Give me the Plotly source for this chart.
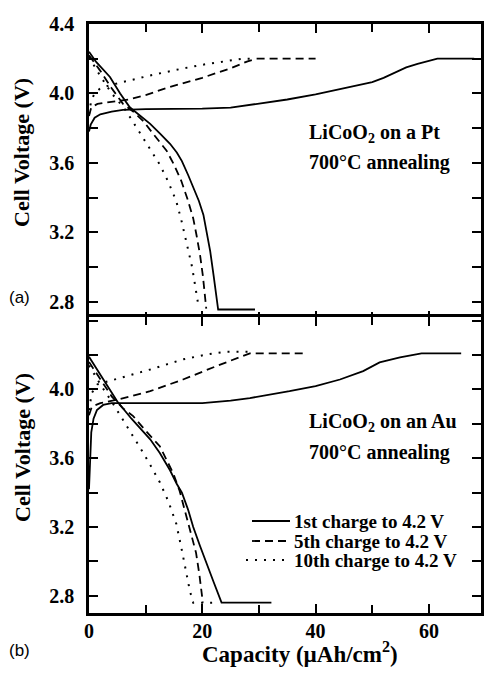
import plotly.graph_objects as go
from plotly.subplots import make_subplots

# ---------------- data ----------------
# Panel (a): LiCoO2 on Pt
a_ch1_x = [0, 0.3, 1, 2, 4, 6, 10, 15, 20, 25, 30, 35, 40, 45, 50, 52, 54, 56, 58, 60, 61.5, 68]
a_ch1_y = [3.78, 3.82, 3.86, 3.88, 3.895, 3.905, 3.91, 3.91, 3.912, 3.918, 3.94, 3.965, 3.995, 4.03, 4.065, 4.09, 4.12, 4.15, 4.17, 4.185, 4.2, 4.2]
a_ch5_x = [0, 0.4, 1.5, 4, 7, 10, 14, 20, 25, 28, 29.5, 40]
a_ch5_y = [3.87, 3.92, 3.94, 3.95, 3.965, 3.99, 4.035, 4.09, 4.145, 4.185, 4.2, 4.2]
a_ch10_x = [0, 0.4, 1, 2, 4, 7, 11, 16, 20, 24, 27, 28.5]
a_ch10_y = [3.88, 3.96, 4.0, 4.03, 4.05, 4.075, 4.105, 4.14, 4.165, 4.185, 4.2, 4.2]
a_dis1_x = [0, 1.3, 3.7, 5.5, 7.2, 9, 10.8, 12.5, 14.3, 15.5, 16.4, 17.5, 18.4, 19.4, 20.2, 20.8, 21.4, 22, 22.8, 29.3]
a_dis1_y = [4.24, 4.18, 4.095, 4.0, 3.92, 3.87, 3.825, 3.77, 3.71, 3.66, 3.61, 3.53, 3.455, 3.38, 3.30, 3.2, 3.09, 2.95, 2.755, 2.755]
a_dis5_x = [0, 2, 4, 6, 8, 9.6, 11.5, 13.7, 15, 16.3, 17.4, 18.4, 19, 19.6, 20.1, 20.7]
a_dis5_y = [4.22, 4.13, 4.03, 3.94, 3.89, 3.84, 3.76, 3.67, 3.59, 3.495, 3.39, 3.28, 3.18, 3.07, 2.95, 2.76]
a_dis10_x = [0, 2, 4, 6.1, 7.5, 9, 10.8, 12.5, 14, 15.4, 16.3, 17.2, 18.2, 19, 19.4]
a_dis10_y = [4.21, 4.1, 4.0, 3.92, 3.85, 3.77, 3.68, 3.59, 3.49, 3.38, 3.27, 3.15, 3.0, 2.84, 2.76]

# Panel (b): LiCoO2 on Au
b_ch1_x = [0, 0.15, 0.4, 0.8, 1.4, 2.5, 4, 10, 20, 25, 28.4, 35.4, 40, 44.3, 48.4, 51.3, 54.9, 58.7, 65.7]
b_ch1_y = [3.42, 3.6, 3.75, 3.83, 3.88, 3.91, 3.92, 3.92, 3.92, 3.935, 3.95, 3.99, 4.02, 4.058, 4.107, 4.157, 4.186, 4.21, 4.21]
b_ch5_x = [0, 0.5, 2, 4.9, 10.8, 16.6, 22.5, 26, 28.4, 38.4]
b_ch5_y = [3.85, 3.9, 3.92, 3.94, 3.99, 4.058, 4.136, 4.18, 4.21, 4.21]
b_ch10_x = [0, 0.5, 1.5, 3.7, 10.8, 16.6, 21, 24.3, 28]
b_ch10_y = [3.88, 3.98, 4.03, 4.05, 4.116, 4.175, 4.205, 4.22, 4.22]
b_dis1_x = [0, 2.5, 5, 7.5, 10.8, 12.5, 14.3, 15.5, 16.4, 17.5, 18.4, 19.6, 20.8, 22, 23.4, 32.2]
b_dis1_y = [4.19, 4.06, 3.93, 3.83, 3.71, 3.63, 3.53, 3.45, 3.40, 3.30, 3.20, 3.09, 2.99, 2.88, 2.76, 2.76]
b_dis5_x = [0, 2, 4, 6, 7.8, 10, 12.5, 14, 14.9, 16, 16.9, 17.9, 18.9, 19.5, 19.9, 20.1]
b_dis5_y = [4.16, 4.06, 3.96, 3.89, 3.845, 3.76, 3.67, 3.57, 3.51, 3.41, 3.30, 3.18, 3.05, 2.92, 2.82, 2.76]
b_dis10_x = [0, 2, 4, 5.5, 6.7, 8, 9.6, 11, 12.5, 14, 15.4, 16.3, 17.2, 17.8, 18.4, 21.9]
b_dis10_y = [4.14, 4.03, 3.93, 3.85, 3.79, 3.72, 3.63, 3.55, 3.46, 3.35, 3.22, 3.08, 2.93, 2.83, 2.76, 2.76]

series_names = ["1st charge to 4.2 V", "5th charge to 4.2 V", "10th charge to 4.2 V"]
y_ticks_a = [2.8, 3.2, 3.6, 4.0, 4.4]
y_ticks_b = [2.8, 3.2, 3.6, 4.0]
y_minor = [2.8, 3.0, 3.2, 3.4, 3.6, 3.8, 4.0, 4.2, 4.4]
x_ticks = [0, 20, 40, 60]
x_minor = [10, 30, 50]

# ---------------- styling ----------------
SERIF = "Liberation Serif"
SANS = "Liberation Sans"
styles = [dict(color="black", width=1.8, dash="solid"),
          dict(color="black", width=1.8, dash="8px,5px"),
          dict(color="black", width=2.0, dash="2px,7px")]

fig = make_subplots(rows=2, cols=1, shared_xaxes=True, vertical_spacing=0)

panel_a = [(a_ch1_x, a_ch1_y, a_dis1_x, a_dis1_y),
           (a_ch5_x, a_ch5_y, a_dis5_x, a_dis5_y),
           (a_ch10_x, a_ch10_y, a_dis10_x, a_dis10_y)]
panel_b = [(b_ch1_x, b_ch1_y, b_dis1_x, b_dis1_y),
           (b_ch5_x, b_ch5_y, b_dis5_x, b_dis5_y),
           (b_ch10_x, b_ch10_y, b_dis10_x, b_dis10_y)]

for row, panel in ((1, panel_a), (2, panel_b)):
    for i, (cx, cy, dx, dy) in enumerate(panel):
        for xx, yy in ((cx, cy), (dx, dy)):
            fig.add_trace(go.Scatter(x=xx, y=yy, mode="lines", line=styles[i],
                                     name=series_names[i], showlegend=False,
                                     hoverinfo="skip"), row=row, col=1)

LW = 2.5
PW = 392.0   # plot width in px
PH = 589.0   # plot height in px
X0, Y0 = 89.0, 24.0

axis_common = dict(showline=True, linecolor="black", linewidth=LW, mirror="ticks",
                   ticks="inside", ticklen=9, tickwidth=2, tickcolor="black",
                   showgrid=False, zeroline=False, automargin=False)

for row in (1, 2):
    fig.update_xaxes(range=[0, 69.2], tickmode="array", tickvals=x_ticks,
                     minor=dict(tickmode="array", tickvals=x_minor, ticks="inside",
                                ticklen=8, tickwidth=2, tickcolor="black"),
                     tickfont=dict(family=SERIF, size=20, color="black", weight="bold"),
                     ticklabelstandoff=-2,
                     showticklabels=(row == 2), row=row, col=1, **axis_common)

half = (LW / 2) / PH
fig.update_yaxes(range=[2.696, 4.4], tickmode="array", tickvals=y_ticks_a,
                 ticktext=[f"{v:.1f}" for v in y_ticks_a], domain=[0.5 - half, 1],
                 row=1, col=1)
fig.update_yaxes(range=[2.7, 4.42], tickmode="array", tickvals=y_ticks_b,
                 ticktext=[f"{v:.1f}" for v in y_ticks_b], domain=[0, 0.5 + half],
                 row=2, col=1)
for row in (1, 2):
    fig.update_yaxes(minor=dict(tickmode="array", tickvals=y_minor, ticks="inside",
                                ticklen=9, tickwidth=2, tickcolor="black"),
                     tickfont=dict(family=SERIF, size=20, color="black", weight="bold"),
                     ticklabelstandoff=8, row=row, col=1, **axis_common)


def px(x):
    return (x - X0) / PW


def py(y):
    return 1 - (y - Y0) / PH


annotations = []
# axis titles
for yc in (153, 448):
    annotations.append(dict(text="<b>Cell Voltage (V)</b>", x=px(22), y=py(yc), xref="paper", yref="paper",
                            showarrow=False, textangle=-90, xanchor="center", yanchor="middle",
                            font=dict(family=SERIF, size=22, color="black")))
annotations.append(dict(text="<b>Capacity (µAh/cm<sup>2</sup>)</b>", x=px(300), y=py(652),
                        xref="paper", yref="paper", showarrow=False,
                        xanchor="center", yanchor="middle",
                        font=dict(family=SERIF, size=23, color="black")))
# panel letters
annotations.append(dict(text="(a)", x=px(19), y=py(297), xref="paper", yref="paper", showarrow=False,
                        xanchor="center", yanchor="middle", font=dict(family=SANS, size=17, color="black")))
annotations.append(dict(text="(b)", x=px(19), y=py(650), xref="paper", yref="paper", showarrow=False,
                        xanchor="center", yanchor="middle", font=dict(family=SANS, size=17, color="black")))
# panel descriptions
desc = [("LiCoO<sub>2</sub> on a Pt", 133), ("700°C annealing", 162),
        ("LiCoO<sub>2</sub> on an Au", 422), ("700°C annealing", 452)]
for t, yc in desc:
    annotations.append(dict(text="<b>" + t + "</b>", x=px(307), y=py(yc), xref="paper", yref="paper",
                            showarrow=False, xanchor="left", yanchor="middle",
                            font=dict(family=SERIF, size=20, color="black")))

# manual legend
shapes = []
leg_rows = [521, 541, 560]
leg_x0 = [252, 252, 246]
for i, (name, yc) in enumerate(zip(series_names, leg_rows)):
    shapes.append(dict(type="line", xref="paper", yref="paper", x0=px(leg_x0[i]), x1=px(290),
                       y0=py(yc), y1=py(yc), line=styles[i]))
    annotations.append(dict(text="<b>" + name + "</b>", x=px(292), y=py(yc), xref="paper", yref="paper",
                            showarrow=False, xanchor="left", yanchor="middle",
                            font=dict(family=SERIF, size=19, color="black")))

fig.update_layout(width=486, height=678, margin=dict(l=89, r=5, t=24, b=65),
                  paper_bgcolor="white", plot_bgcolor="white", showlegend=False,
                  annotations=annotations, shapes=shapes,
                  font=dict(family=SERIF, color="black"))

fig.write_html("out.html", config={"displayModeBar": False},
               post_script="document.body.style.margin='0';document.body.style.padding='0';")
